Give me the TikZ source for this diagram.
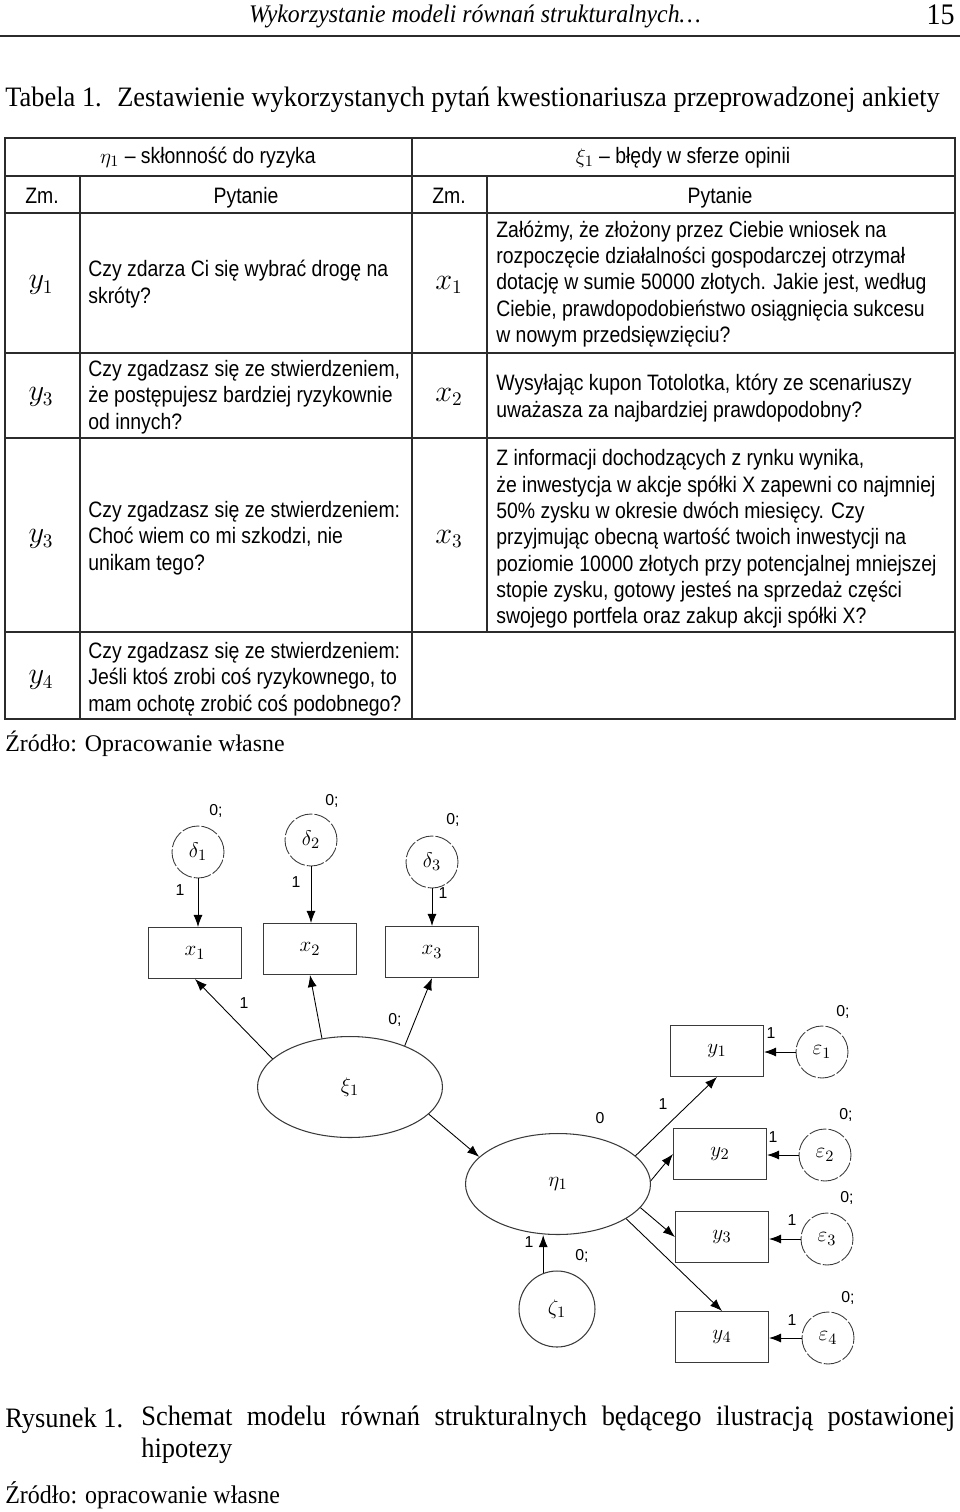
\documentclass[tikz,border=0pt]{standalone}
\usepackage{fontspec}
\setmainfont{Liberation Serif}
\newfontfamily\tabfont[FakeStretch=0.87]{Liberation Sans}
\newfontfamily\narrowserif[FakeStretch=0.94]{Liberation Serif}
\newfontfamily\numfont{Liberation Sans}
\usetikzlibrary{arrows.meta,positioning,shapes.geometric}
\definecolor{ruleink}{HTML}{2B2B2B}
\definecolor{boxink}{HTML}{3A3A3A}

\tikzset{
  cell/.style={font=\tabfont\fontsize{12.7}{15}\selectfont, align=left, anchor=west, inner sep=0pt},
  head/.style={font=\tabfont\fontsize{12.7}{15}\selectfont, inner sep=0pt, anchor=base},
  var/.style={font=\fontsize{16}{16}\selectfont, inner sep=0pt},
  capt/.style={font=\narrowserif\fontsize{16}{18}\selectfont, inner sep=0pt},
  obs/.style={draw=boxink, line width=0.6pt, minimum width=1.86cm, minimum height=1.02cm,
    inner sep=0pt, font=\fontsize{13}{13}\selectfont},
  latent/.style={ellipse, draw=boxink, line width=0.6pt, minimum width=3.7cm, minimum height=2.02cm,
    inner sep=0pt, font=\fontsize{13}{13}\selectfont},
  errc/.style={circle, draw=boxink, line width=0.5pt, dash pattern=on 10pt off 1.2pt,
    minimum size=1.04cm, inner sep=0pt, font=\fontsize{13}{13}\selectfont},
  dist/.style={circle, draw=boxink, line width=0.6pt, minimum size=1.52cm, inner sep=0pt,
    font=\fontsize{13}{13}\selectfont},
  arr/.style={-{Latex[length=2.4mm,width=1.8mm]}, line width=0.5pt, draw=black},
  num/.style={font=\numfont\fontsize{9}{9}\selectfont, inner sep=0pt}
}

\begin{document}
\begin{tikzpicture}[x=0.02cm,y=-0.02cm]
  \useasboundingbox (0,0) rectangle (960,1512);

  % running head
  \node[capt, font=\narrowserif\itshape\fontsize{14.4}{16}\selectfont] (runhead) at (475,16)
    {Wykorzystanie modeli równań strukturalnych\ldots};
  \node[capt, font=\narrowserif\fontsize{17}{17}\selectfont, anchor=east] (pageno) at (955,15) {15};
  \draw[line width=0.8pt, ruleink] (0,36) -- (960,36);

  \node[capt, anchor=base west] (tabcapt) at (5,106)
    {Tabela 1.\hspace{0.55em}Zestawienie wykorzystanych pytań kwestionariusza przeprowadzonej ankiety};

  % table grid
  \draw[ruleink, line width=1.1pt] (5,138) rectangle (955,719);
  \draw[ruleink, line width=0.8pt]
    (5,176) -- (955,176)  (5,213) -- (955,213)  (5,353) -- (955,353)
    (5,438) -- (955,438)  (5,632) -- (955,632)
    (412,138) -- (412,719)  (80,176) -- (80,719)  (487,176) -- (487,632);

  \node[head] (hleft)  at (208,163) {$\eta_1$ – skłonność do ryzyka};
  \node[head] (hright) at (683,163) {$\xi_1$ – błędy w sferze opinii};
  \node[head] (zmL) at (42,203) {Zm.};
  \node[head] (pyL) at (246,203) {Pytanie};
  \node[head] (zmR) at (449,203) {Zm.};
  \node[head] (pyR) at (720,203) {Pytanie};

  \node[var] (vy1) at (41,285) {$y_1$};
  \node[var] (vy2) at (41,397) {$y_3$};
  \node[var] (vy3) at (41,539) {$y_3$};
  \node[var] (vy4) at (41,680) {$y_4$};
  \node[var] (vx1) at (449,285) {$x_1$};
  \node[var] (vx2) at (449,397) {$x_2$};
  \node[var] (vx3) at (449,539) {$x_3$};

  \node[cell] (qy1) at (88,284) {Czy zdarza Ci się wybrać drogę na\\skróty?};
  \node[cell] (qy2) at (88,397) {Czy zgadzasz się ze stwierdzeniem,\\że postępujesz bardziej ryzykownie\\od innych?};
  \node[cell] (qy3) at (88,538) {Czy zgadzasz się ze stwierdzeniem:\\Choć wiem co mi szkodzi, nie\\unikam tego?};
  \node[cell] (qy4) at (88,679) {Czy zgadzasz się ze stwierdzeniem:\\Jeśli ktoś zrobi coś ryzykownego, to\\mam ochotę zrobić coś podobnego?};
  \node[cell] (qx1) at (496,284) {Załóżmy, że złożony przez Ciebie wniosek na\\rozpoczęcie działalności gospodarczej otrzymał\\dotację w sumie 50000 złotych. Jakie jest, według\\Ciebie, prawdopodobieństwo osiągnięcia sukcesu\\w nowym przedsięwzięciu?};
  \node[cell] (qx2) at (496,398) {Wysyłając kupon Totolotka, który ze scenariuszy\\uważasza za najbardziej prawdopodobny?};
  \node[cell] (qx3) at (496,539) {Z informacji dochodzących z rynku wynika,\\że inwestycja w akcje spółki X zapewni co najmniej\\50\% zysku w okresie dwóch miesięcy. Czy\\przyjmując obecną wartość twoich inwestycji na\\poziomie 10000 złotych przy potencjalnej mniejszej\\stopie zysku, gotowy jesteś na sprzedaż części\\swojego portfela oraz zakup akcji spółki X?};

  \node[capt, font=\fontsize{13.6}{16}\selectfont, anchor=base west] (src1) at (5,751) {Źródło: Opracowanie własne};

  % path diagram
  \node[errc] (d1) at (198,852) {$\delta_1$};
  \node[errc] (d2) at (311,840) {$\delta_2$};
  \node[errc] (d3) at (432,862) {$\delta_3$};
  \node[obs] (x1) at (195,953) {$x_1$};
  \node[obs] (x2) at (310,949) {$x_2$};
  \node[obs] (x3) at (432,952) {$x_3$};
  \node[latent] (xi) at (350,1087) {$\xi_1$};
  \node[latent] (eta) at (558,1184) {$\eta_1$};
  \node[dist] (zeta) at (557,1309) {$\zeta_1$};
  \node[obs] (y1) at (717,1051) {$y_1$};
  \node[obs] (y2) at (720,1154) {$y_2$};
  \node[obs] (y3) at (722,1237) {$y_3$};
  \node[obs] (y4) at (722,1337) {$y_4$};
  \node[errc] (e1) at (822,1052) {$\varepsilon_1$};
  \node[errc] (e2) at (825,1155) {$\varepsilon_2$};
  \node[errc] (e3) at (827,1239) {$\varepsilon_3$};
  \node[errc] (e4) at (828,1338) {$\varepsilon_4$};

  \draw[arr] (d1.south) -- (d1.south |- x1.north);
  \draw[arr] (d2.south) -- (d2.south |- x2.north);
  \draw[arr] (d3.south) -- (d3.south |- x3.north);
  \draw[arr] (xi.160) -- (x1.south);
  \draw[arr] (xi.120) -- (x2.south);
  \draw[arr] (xi.37) -- (x3.south);
  \draw[arr] (xi.-19) -- (eta.161);
  \draw[arr] (zeta.111) -- (zeta.111 |- eta.south);
  \draw[arr] (eta.20) -- (y1.south);
  \draw[arr] (eta.2) -- (y2.west);
  \draw[arr] (eta.-16) -- (y3.west);
  \draw[arr] (eta.-27) -- (y4.north);
  \draw[arr] (e1.west) -- (e1.west -| y1.east);
  \draw[arr] (e2.west) -- (e2.west -| y2.east);
  \draw[arr] (e3.west) -- (e3.west -| y3.east);
  \draw[arr] (e4.west) -- (e4.west -| y4.east);

  % parameter labels
  \foreach \nm/\px/\py/\txt in {
      zd1/216/811/0;, zd2/332/801/0;, zd3/453/820/0;, zx3/395/1020/0;, zzt/582/1256/0;,
      ze1/843/1012/0;, ze2/846/1115/0;, ze3/847/1198/0;, ze4/848/1298/0;, zet/600/1118/0,
      od1/180/890/1, od2/296/882/1, od3/443/893/1, ox1/244/1003/1, ozt/529/1242/1,
      oe1/771/1033/1, oe2/773/1137/1, oe3/792/1220/1, oe4/792/1320/1, oy1/663/1104/1}
    \node[num] (\nm) at (\px,\py) {\txt};

  % caption
  \node[capt, anchor=base west] (figtag) at (5,1427) {Rysunek 1.};
  \node[capt, anchor=north west, text width=16.28cm, align=justify] (figcapt) at (141,1406)
    {Schemat modelu równań strukturalnych będącego ilustracją postawionej\linebreak hipotezy};
  \node[capt, font=\narrowserif\fontsize{14.5}{16}\selectfont, anchor=base west] (src2) at (5,1503)
    {Źródło: opracowanie własne};
\end{tikzpicture}
\end{document}
